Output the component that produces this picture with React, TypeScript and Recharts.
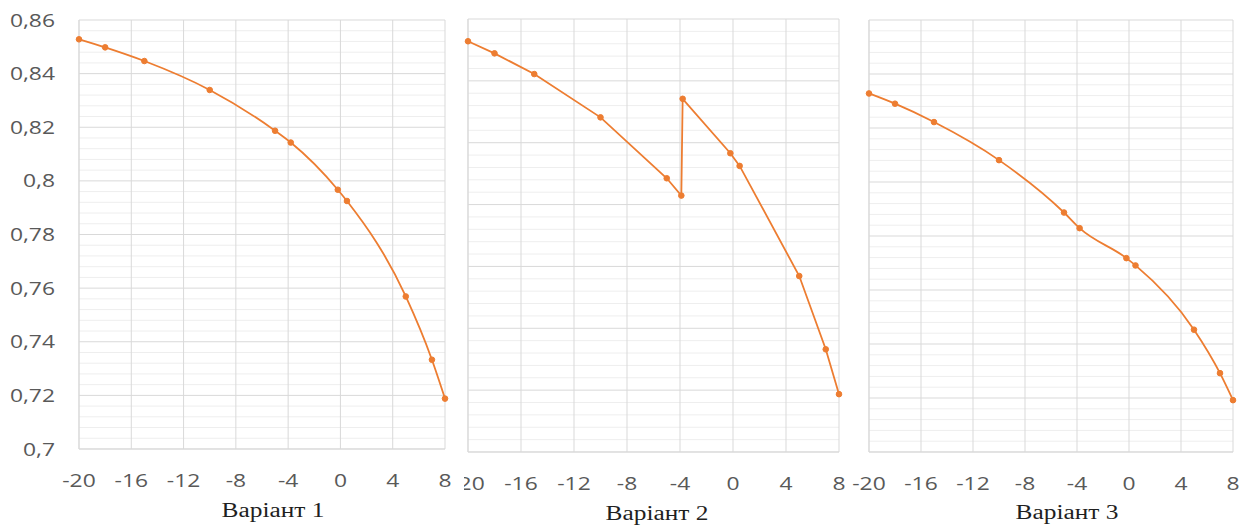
import React from 'react'
import { LineChart, Line, XAxis, YAxis, CartesianGrid } from 'recharts'

// temperatures (x) for each variant
const temps = [-20, -18, -15, -10, -5, -3.8, -0.2, 0.5, 5, 7, 8]
const tempsV2 = [-20, -18, -15, -10, -5, -3.9, -3.8, -0.2, 0.5, 5, 7, 8]

const variant1 = [0.8528, 0.8498, 0.8447, 0.8339, 0.8187, 0.8143, 0.7967, 0.7925, 0.7569, 0.7333, 0.7188]
const variant2 = [0.8528, 0.8489, 0.8422, 0.8282, 0.8085, 0.8029, 0.8342, 0.8166, 0.8125, 0.7769, 0.7532, 0.7387]
const variant3 = [0.8328, 0.829, 0.8222, 0.8081, 0.7887, 0.7829, 0.7718, 0.7691, 0.7453, 0.7292, 0.7192]

const xTicks = [-20, -16, -12, -8, -4, 0, 4, 8]
const yTicks = [0.7, 0.72, 0.74, 0.76, 0.78, 0.8, 0.82, 0.84, 0.86]
const yTicksV2 = [0.72, 0.74, 0.76, 0.78, 0.8, 0.82, 0.84, 0.86]

const titles = ['Варіант 1', 'Варіант 2', 'Варіант 3']

const ORANGE = '#ED7D31'
const GRID = '#d9d9d9'
const MINOR = '#eeeeee'
const LABEL = '#595959'
const STRETCH = 1.27

// minor gridlines: 5 divisions per major step
const minorOf = (ticks: number[]) => {
  const out: number[] = []
  for (let i = 0; i < ticks.length - 1; i++) {
    for (let k = 1; k < 5; k++) out.push(ticks[i] + ((ticks[i + 1] - ticks[i]) * k) / 5)
  }
  return out
}

const toRows = (xs: number[], ys: number[]) => xs.map((t, i) => ({ t, v: ys[i] }))

const XTick = (props: any) => {
  const { x, y, payload } = props
  return (
    <text
      transform={`translate(${x},${y + 38}) scale(${STRETCH},1)`}
      textAnchor="middle"
      fill={LABEL}
      fontSize={18}
      fontFamily="Open Sans"
    >
      {payload.value}
    </text>
  )
}

const YTick = (props: any) => {
  const { x, y, payload } = props
  return (
    <text
      transform={`translate(${x - 24},${y + 6.5}) scale(${STRETCH},1)`}
      textAnchor="end"
      fill={LABEL}
      fontSize={18}
      fontFamily="Open Sans"
    >
      {String(payload.value).replace('.', ',')}
    </text>
  )
}

const NoTick = () => <g />

type PanelProps = {
  left: number
  width: number
  rows: { t: number; v: number }[]
  ticks: number[]
  yWidth: number
  top: number
  right: number
  bottom: number
  showY?: boolean
  smooth?: boolean
}

function Panel({ left, width, rows, ticks, yWidth, top, right, bottom, showY, smooth }: PanelProps) {
  return (
    <div style={{ position: 'absolute', left, top: 0, width, height: 527, overflow: 'hidden' }}>
      <LineChart width={width} height={527} data={rows} margin={{ top, right, bottom: 0, left: 0 }}>
        <CartesianGrid horizontalValues={minorOf(ticks)} vertical={false} stroke={MINOR} strokeDasharray="" />
        <CartesianGrid horizontalValues={ticks} verticalValues={xTicks} stroke={GRID} strokeDasharray="" />
        <XAxis
          dataKey="t"
          type="number"
          domain={[-20, 8]}
          ticks={xTicks}
          height={bottom}
          tickSize={0}
          tickMargin={0}
          tickLine={false}
          axisLine={{ stroke: GRID }}
          tick={<XTick />}
          interval={0}
        />
        <YAxis
          type="number"
          domain={[ticks[0], ticks[ticks.length - 1]]}
          ticks={ticks}
          width={yWidth}
          tickSize={0}
          tickMargin={0}
          tickLine={false}
          axisLine={{ stroke: GRID }}
          tick={showY ? <YTick /> : <NoTick />}
          interval={0}
        />
        <Line
          dataKey="v"
          type={smooth ? 'monotone' : 'linear'}
          stroke={ORANGE}
          strokeWidth={1.8}
          dot={{ r: 2.8, fill: ORANGE, stroke: ORANGE, strokeWidth: 1 }}
          activeDot={false}
          isAnimationActive={false}
        />
      </LineChart>
    </div>
  )
}

const titleStyle = (cx: number, top: number): React.CSSProperties => ({
  position: 'absolute',
  left: cx,
  top,
  fontFamily: '"Liberation Serif", serif',
  fontSize: 20,
  lineHeight: '20px',
  color: '#1f1f1f',
  whiteSpace: 'nowrap',
  transform: `translateX(-50%) scaleX(${STRETCH})`,
})

export default function App() {
  return (
    <div style={{ position: 'absolute', left: 0, top: 0, width: 1247, height: 527, background: '#fff', overflow: 'hidden' }}>
      <Panel left={0} width={462} rows={toRows(temps, variant1)} ticks={yTicks} yWidth={79} top={20} right={17} bottom={78} showY smooth />
      <Panel left={464} width={400} rows={toRows(tempsV2, variant2)} ticks={yTicksV2} yWidth={4} top={19} right={25} bottom={75} />
      <Panel left={848} width={399} rows={toRows(temps, variant3)} ticks={yTicks} yWidth={21} top={20} right={14} bottom={75} smooth />
      <div style={titleStyle(273, 500)}>{titles[0]}</div>
      <div style={titleStyle(657, 503)}>{titles[1]}</div>
      <div style={titleStyle(1067, 502)}>{titles[2]}</div>
    </div>
  )
}
